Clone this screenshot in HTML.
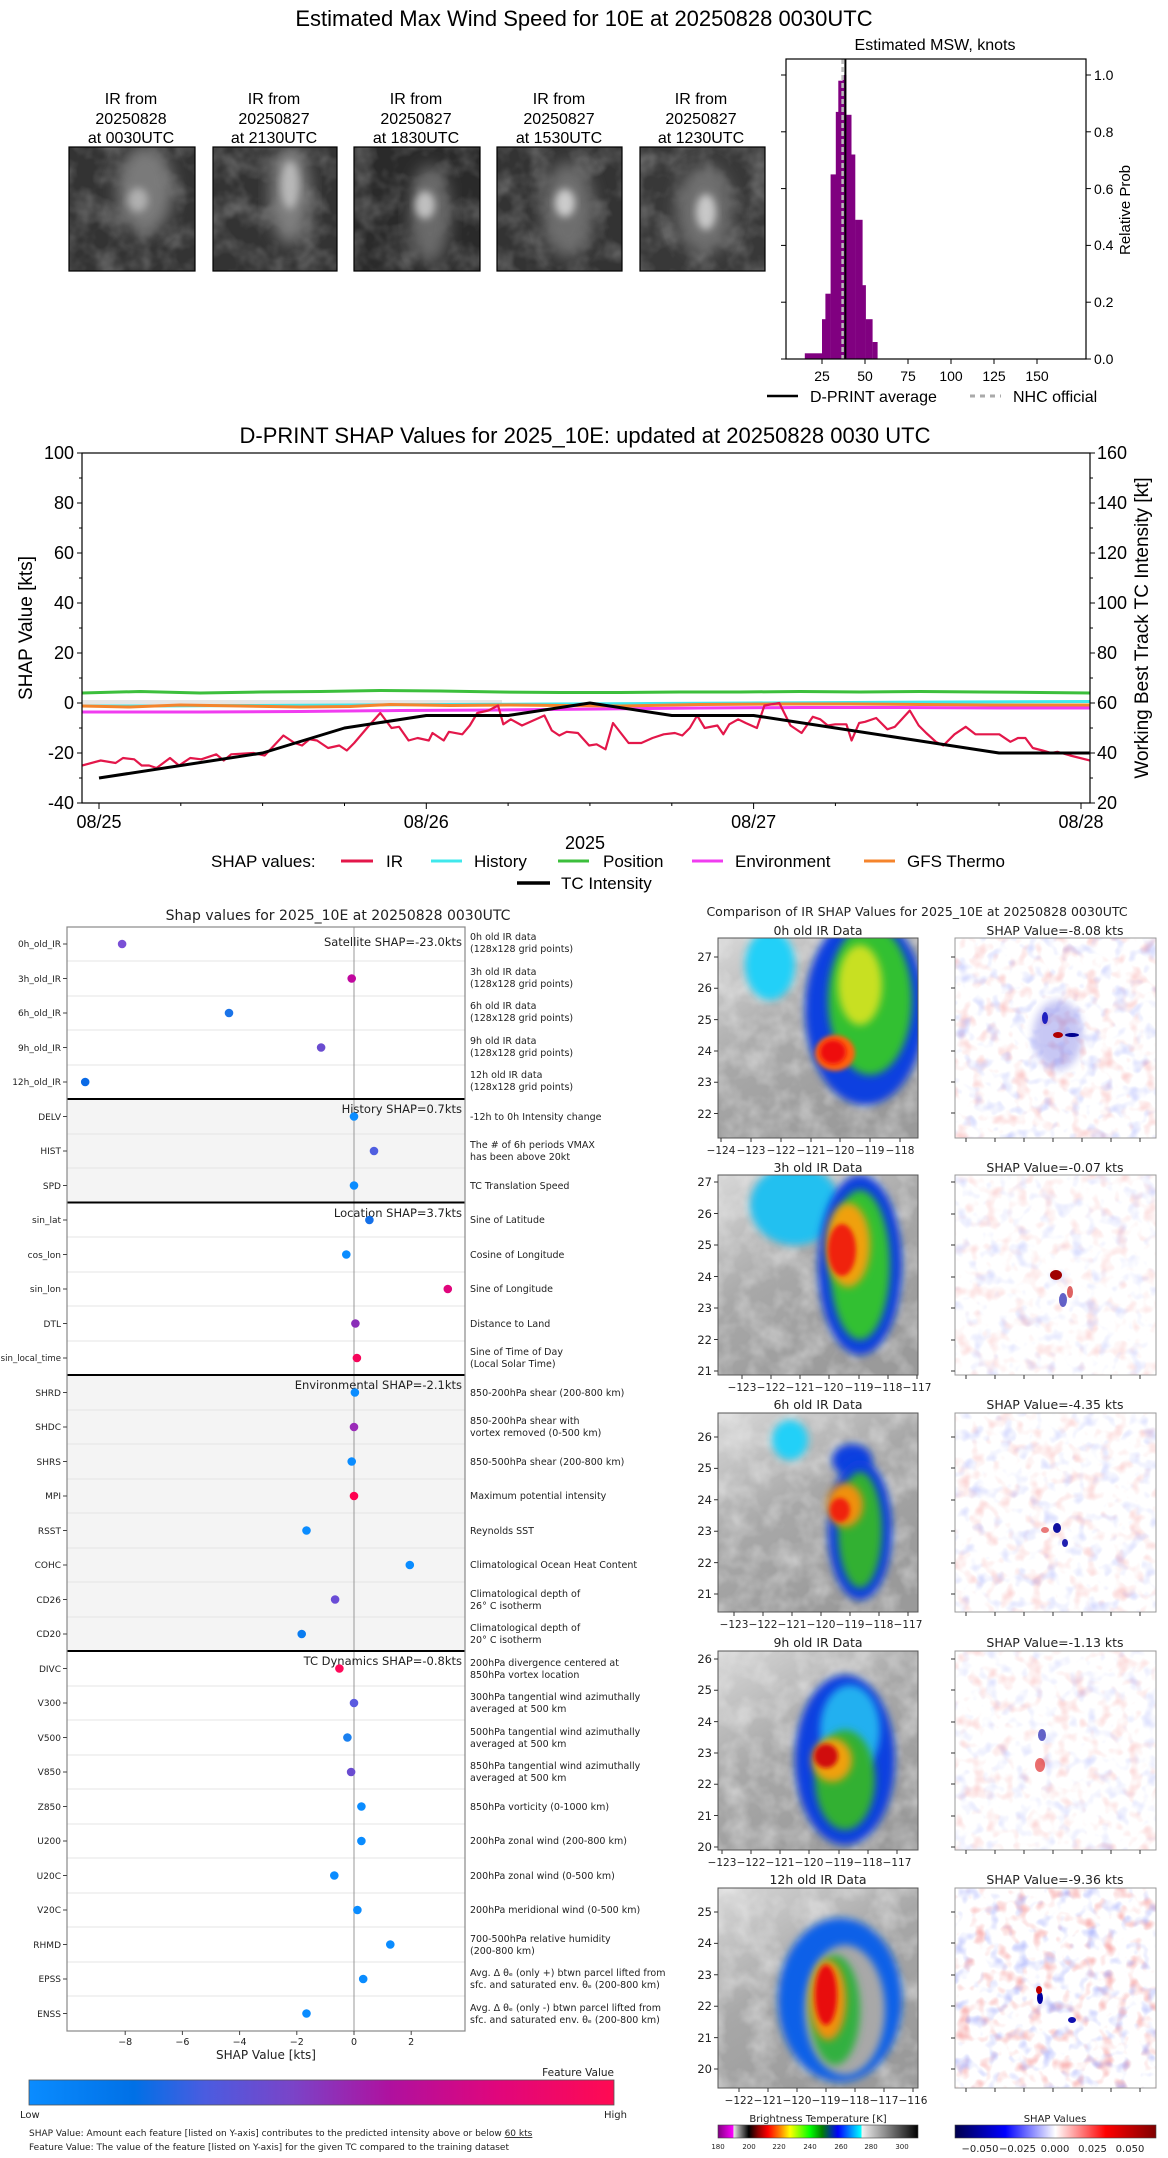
<!DOCTYPE html>
<html><head><meta charset="utf-8"><style>
html,body{margin:0;padding:0;background:#fff;}
svg{display:block;}
.t{font-family:"Liberation Sans",sans-serif;fill:#000;}
.d{font-family:"DejaVu Sans","Liberation Sans",sans-serif;fill:#222;}
</style></head><body>
<svg width="1168" height="2158" viewBox="0 0 1168 2158" xmlns="http://www.w3.org/2000/svg">
<defs>
 <filter id="bl4" x="-30%" y="-30%" width="160%" height="160%"><feGaussianBlur stdDeviation="4"/></filter>
 <filter id="bl2" x="-30%" y="-30%" width="160%" height="160%"><feGaussianBlur stdDeviation="2"/></filter>
 <filter id="bl8" x="-30%" y="-30%" width="160%" height="160%"><feGaussianBlur stdDeviation="8"/></filter>
 <filter id="nred" x="0" y="0" width="100%" height="100%"><feTurbulence type="fractalNoise" baseFrequency="0.07" numOctaves="2" seed="3"/><feColorMatrix values="0 0 0 0 0.9  0 0 0 0 0.2  0 0 0 0 0.2  3 0 0 0 -1.55"/></filter>
 <filter id="nblue" x="0" y="0" width="100%" height="100%"><feTurbulence type="fractalNoise" baseFrequency="0.07" numOctaves="2" seed="11"/><feColorMatrix values="0 0 0 0 0.2  0 0 0 0 0.25  0 0 0 0 0.95  0 3 0 0 -1.6"/></filter>
 <filter id="ngrey" x="0" y="0" width="100%" height="100%"><feTurbulence type="fractalNoise" baseFrequency="0.04" numOctaves="3" seed="5"/><feColorMatrix values="0 0 0 0 1  0 0 0 0 1  0 0 0 0 1  1.6 0 0 0 -0.6"/></filter>
 <linearGradient id="fv" x1="0" x2="1" y1="0" y2="0">
  <stop offset="0" stop-color="#0a8cff"/><stop offset="0.18" stop-color="#0070e6"/><stop offset="0.3" stop-color="#4a5ce0"/><stop offset="0.45" stop-color="#7a44c8"/><stop offset="0.62" stop-color="#b0109e"/><stop offset="0.8" stop-color="#e0067c"/><stop offset="1" stop-color="#ff0a52"/>
 </linearGradient>
 <linearGradient id="bt" x1="0" x2="1" y1="0" y2="0">
  <stop offset="0" stop-color="#800080"/><stop offset="0.076" stop-color="#ff00ff"/><stop offset="0.078" stop-color="#e8e8e8"/><stop offset="0.154" stop-color="#000"/><stop offset="0.2" stop-color="#8b0000"/><stop offset="0.25" stop-color="#ff0000"/><stop offset="0.31" stop-color="#ff8000"/><stop offset="0.36" stop-color="#ffff00"/><stop offset="0.46" stop-color="#00ff00"/><stop offset="0.52" stop-color="#008000"/><stop offset="0.6" stop-color="#0000ff"/><stop offset="0.715" stop-color="#00ffff"/><stop offset="0.72" stop-color="#f0f0f0"/><stop offset="1" stop-color="#000"/>
 </linearGradient>
 <linearGradient id="sw" x1="0" x2="1" y1="0" y2="0">
  <stop offset="0" stop-color="#00004c"/><stop offset="0.25" stop-color="#0000ff"/><stop offset="0.5" stop-color="#ffffff"/><stop offset="0.75" stop-color="#ff0000"/><stop offset="1" stop-color="#800000"/>
 </linearGradient>
 <linearGradient id="irbg" x1="0" y1="0" x2="0.6" y2="1">
  <stop offset="0" stop-color="#d8d8d8"/><stop offset="0.5" stop-color="#a8a8a8"/><stop offset="1" stop-color="#9a9a9a"/>
 </linearGradient>
 <clipPath id="c0"><rect x="718" y="938" width="200" height="200"/></clipPath>
 <clipPath id="c1"><rect x="718" y="1175" width="200" height="200"/></clipPath>
 <clipPath id="c2"><rect x="718" y="1413" width="200" height="199"/></clipPath>
 <clipPath id="c3"><rect x="718" y="1651" width="200" height="199"/></clipPath>
 <clipPath id="c4"><rect x="718" y="1888" width="200" height="200"/></clipPath>
 <clipPath id="tc"><rect x="69" y="147" width="696" height="124"/></clipPath>
 <clipPath id="hc"><rect x="82" y="453" width="1008" height="350"/></clipPath>
</defs>

<text class="t" x="584" y="26" font-size="22" text-anchor="middle">Estimated Max Wind Speed for 10E at 20250828 0030UTC</text>

<g class="t" font-size="16" text-anchor="middle">
 <text x="131" y="104">IR from</text><text x="131" y="124">20250828</text><text x="131" y="143">at 0030UTC</text>
 <text x="274" y="104">IR from</text><text x="274" y="124">20250827</text><text x="274" y="143">at 2130UTC</text>
 <text x="416" y="104">IR from</text><text x="416" y="124">20250827</text><text x="416" y="143">at 1830UTC</text>
 <text x="559" y="104">IR from</text><text x="559" y="124">20250827</text><text x="559" y="143">at 1530UTC</text>
 <text x="701" y="104">IR from</text><text x="701" y="124">20250827</text><text x="701" y="143">at 1230UTC</text>
</g>
<g clip-path="url(#tc)">
 <rect x="69" y="147" width="126" height="124" fill="#333"/>
 <rect x="69" y="147" width="126" height="124" filter="url(#ngrey)" opacity="0.3"/>
 <ellipse cx="145" cy="190" rx="28" ry="45" fill="#7a7a7a" filter="url(#bl8)"/>
 <ellipse cx="138" cy="200" rx="10" ry="12" fill="#b0b0b0" filter="url(#bl4)"/>
 <rect x="213" y="147" width="124" height="124" fill="#333"/>
 <rect x="213" y="147" width="124" height="124" filter="url(#ngrey)" opacity="0.3"/>
 <ellipse cx="290" cy="195" rx="20" ry="50" fill="#808080" filter="url(#bl8)"/>
 <ellipse cx="290" cy="185" rx="9" ry="24" fill="#b8b8b8" filter="url(#bl4)"/>
 <rect x="354" y="147" width="126" height="124" fill="#2a2a2a"/>
 <rect x="354" y="147" width="126" height="124" filter="url(#ngrey)" opacity="0.3"/>
 <ellipse cx="430" cy="215" rx="20" ry="50" fill="#6a6a6a" filter="url(#bl8)"/>
 <ellipse cx="425" cy="205" rx="10" ry="14" fill="#c0c0c0" filter="url(#bl4)"/>
 <rect x="497" y="147" width="125" height="124" fill="#333"/>
 <rect x="497" y="147" width="125" height="124" filter="url(#ngrey)" opacity="0.3"/>
 <ellipse cx="568" cy="210" rx="26" ry="48" fill="#6e6e6e" filter="url(#bl8)"/>
 <ellipse cx="565" cy="203" rx="10" ry="14" fill="#cccccc" filter="url(#bl4)"/>
 <rect x="640" y="147" width="125" height="124" fill="#383838"/>
 <rect x="640" y="147" width="125" height="124" filter="url(#ngrey)" opacity="0.3"/>
 <ellipse cx="704" cy="210" rx="28" ry="45" fill="#707070" filter="url(#bl8)"/>
 <ellipse cx="706" cy="212" rx="10" ry="18" fill="#c8c8c8" filter="url(#bl4)"/>
</g>
<g fill="none" stroke="#000" stroke-width="1.2">
 <rect x="69" y="147" width="126" height="124"/><rect x="213" y="147" width="124" height="124"/><rect x="354" y="147" width="126" height="124"/><rect x="497" y="147" width="125" height="124"/><rect x="640" y="147" width="125" height="124"/>
</g>

<text class="t" x="935" y="50" font-size="16" text-anchor="middle">Estimated MSW, knots</text>
<g fill="#800080">
 <rect x="804.8" y="353.3" width="17.2" height="5.7"/>
 <rect x="822" y="319.2" width="3.6" height="39.8"/>
 <rect x="825.4" y="293.7" width="5.4" height="65.3"/>
 <rect x="830.6" y="174.4" width="5.4" height="184.6"/>
 <rect x="835.8" y="111.9" width="2.7" height="247.1"/>
 <rect x="838.3" y="80.7" width="4.5" height="278.3"/>
 <rect x="842.6" y="75" width="3.7" height="284"/>
 <rect x="846.1" y="114.8" width="5.4" height="244.2"/>
 <rect x="851.3" y="154.5" width="4" height="204.5"/>
 <rect x="855.1" y="219.8" width="7.5" height="139.2"/>
 <rect x="862.3" y="285.2" width="3.6" height="73.8"/>
 <rect x="865.7" y="319.2" width="6.9" height="39.8"/>
 <rect x="872.6" y="342" width="5" height="17"/>
</g>
<line x1="842.6" y1="59" x2="842.6" y2="359" stroke="#bbb" stroke-width="2.5" stroke-dasharray="5,3"/>
<line x1="845.4" y1="59" x2="845.4" y2="359" stroke="#000" stroke-width="2"/>
<rect x="786" y="59" width="300" height="300" fill="none" stroke="#000" stroke-width="1.2"/>
<g stroke="#000" stroke-width="1">
 <line x1="822" y1="359" x2="822" y2="364"/><line x1="865" y1="359" x2="865" y2="364"/><line x1="908" y1="359" x2="908" y2="364"/><line x1="951" y1="359" x2="951" y2="364"/><line x1="994" y1="359" x2="994" y2="364"/><line x1="1037" y1="359" x2="1037" y2="364"/>
 <line x1="1086" y1="359" x2="1091" y2="359"/><line x1="1086" y1="302.2" x2="1091" y2="302.2"/><line x1="1086" y1="245.4" x2="1091" y2="245.4"/><line x1="1086" y1="188.6" x2="1091" y2="188.6"/><line x1="1086" y1="131.8" x2="1091" y2="131.8"/><line x1="1086" y1="75" x2="1091" y2="75"/>
 <line x1="781" y1="359" x2="786" y2="359"/><line x1="781" y1="302.2" x2="786" y2="302.2"/><line x1="781" y1="245.4" x2="786" y2="245.4"/><line x1="781" y1="188.6" x2="786" y2="188.6"/><line x1="781" y1="131.8" x2="786" y2="131.8"/><line x1="781" y1="75" x2="786" y2="75"/>
</g>
<g class="t" font-size="14" text-anchor="middle">
 <text x="822" y="381">25</text><text x="865" y="381">50</text><text x="908" y="381">75</text><text x="951" y="381">100</text><text x="994" y="381">125</text><text x="1037" y="381">150</text>
</g>
<g class="t" font-size="14">
 <text x="1094" y="364">0.0</text><text x="1094" y="307">0.2</text><text x="1094" y="250">0.4</text><text x="1094" y="194">0.6</text><text x="1094" y="137">0.8</text><text x="1094" y="80">1.0</text>
</g>
<text class="t" font-size="15" transform="translate(1130,210) rotate(-90)" text-anchor="middle">Relative Prob</text>
<line x1="767" y1="396" x2="798" y2="396" stroke="#000" stroke-width="2.5"/>
<text class="t" x="810" y="402" font-size="16">D-PRINT average</text>
<line x1="970" y1="396" x2="1001" y2="396" stroke="#aaa" stroke-width="3" stroke-dasharray="5,5"/>
<text class="t" x="1013" y="402" font-size="16">NHC official</text>

<text class="t" x="585" y="443" font-size="22" text-anchor="middle">D-PRINT SHAP Values for 2025_10E: updated at 20250828 0030 UTC</text>
<g clip-path="url(#hc)" fill="none" stroke-linejoin="round">
 <rect x="82" y="700" width="420" height="6" fill="#e6e6e6" stroke="none"/>
 <polyline stroke="#3cbf3c" stroke-width="3" points="82,693 140,691.5 200,693 260,692 320,691.5 380,690.5 440,691 500,692 560,692.5 620,692.5 680,692 740,692 800,691.5 860,692 920,691.5 980,692 1040,692.5 1090,693"/>
 <polyline stroke="#40e8ec" stroke-width="3" points="82,706 150,706 250,705.5 350,705 450,704.5 550,704 650,703.5 750,703 850,702.5 950,702 1090,701.5"/>
 <polyline stroke="#f03cf0" stroke-width="3" points="82,712 200,712 300,711.5 400,710.5 500,710 600,709 700,708 800,707.5 900,707.5 1000,708 1090,708"/>
 <polyline stroke="#f5842c" stroke-width="3" points="82,706 130,707 180,705 240,706 300,707 350,706.5 390,704.5 450,705.5 510,705 560,705.5 620,706 700,704.5 780,704 850,704 920,704.5 990,705 1090,705"/>
 <polyline stroke="#e3174a" stroke-width="2.2" points="82,765.5 100.7,760.5 115.6,763 123,758 134.2,759.3 141.7,765.5 149.1,765.5 156.6,768 170,758 179,765.5 190.2,758 201.3,759.3 216.3,754.3 223.7,760.5 231.2,754.3 253.5,753 264.7,755.5 283.4,735.5 294.6,743 302,745.5 309.5,739.3 317,740.5 328.1,748 339.3,745.5 346.8,750.5 354.2,743 369.1,725.5 380.3,713 391.5,728 399,726.8 408.6,740.5 417.6,738 428.8,740.5 432.5,733 443.7,740.5 448.9,731.8 462.3,734.3 469.8,725.5 477.3,713 488.4,710.5 498.1,705.5 503.3,724.3 510.8,719.3 522,725.5 533.2,720.5 544.4,715.5 551.8,730.5 559.3,735.5 566.7,731.8 577.9,733 589.1,745.5 596.6,744.3 605.5,749.3 613,723 628.6,743 641.3,743 652.5,738 663.7,734.3 674.9,733 682.3,735.5 689.8,728 697.2,715.5 704.7,728 717.4,725.5 723.3,734.3 729.3,724.3 738.2,719.3 745.7,723 756.9,728 764.4,705.5 779.3,703 790.5,725.5 801.6,733 812.8,716.8 820.3,719.3 827.7,725.5 835.2,724.3 846.4,724.3 851.6,740.5 859.1,723 865.1,721.8 876.2,718 887.4,729.3 894.9,726.8 909.8,710.5 918.7,725.5 926.2,733 935.9,741.8 943.3,745.5 954.5,734.3 965.7,726.8 975.4,734.3 999.3,734.3 1010.4,741.8 1017.9,738 1025.4,738 1032.8,748 1042.5,750.5 1051.4,753 1057.4,751.8 1070.1,755.5 1090.2,760.5"/>
 <polyline stroke="#000" stroke-width="3" points="99,778 262.6,753 344.5,728 426.3,715.5 508.1,715.5 589.9,703 671.8,715.5 753.6,715.5 835.4,728 917.2,740.5 999,753 1090,753"/>
</g>
<rect x="82" y="453" width="1008" height="350" fill="none" stroke="#000" stroke-width="1.2"/>
<g stroke="#000" stroke-width="1">
 <line x1="77" y1="453" x2="82" y2="453"/><line x1="77" y1="503" x2="82" y2="503"/><line x1="77" y1="553" x2="82" y2="553"/><line x1="77" y1="603" x2="82" y2="603"/><line x1="77" y1="653" x2="82" y2="653"/><line x1="77" y1="703" x2="82" y2="703"/><line x1="77" y1="753" x2="82" y2="753"/><line x1="77" y1="803" x2="82" y2="803"/>
 <line x1="79" y1="478" x2="82" y2="478"/><line x1="79" y1="528" x2="82" y2="528"/><line x1="79" y1="578" x2="82" y2="578"/><line x1="79" y1="628" x2="82" y2="628"/><line x1="79" y1="678" x2="82" y2="678"/><line x1="79" y1="728" x2="82" y2="728"/><line x1="79" y1="778" x2="82" y2="778"/>
 <line x1="1090" y1="453" x2="1095" y2="453"/><line x1="1090" y1="503" x2="1095" y2="503"/><line x1="1090" y1="553" x2="1095" y2="553"/><line x1="1090" y1="603" x2="1095" y2="603"/><line x1="1090" y1="653" x2="1095" y2="653"/><line x1="1090" y1="703" x2="1095" y2="703"/><line x1="1090" y1="753" x2="1095" y2="753"/><line x1="1090" y1="803" x2="1095" y2="803"/>
 <line x1="1090" y1="478" x2="1093" y2="478"/><line x1="1090" y1="528" x2="1093" y2="528"/><line x1="1090" y1="578" x2="1093" y2="578"/><line x1="1090" y1="628" x2="1093" y2="628"/><line x1="1090" y1="678" x2="1093" y2="678"/><line x1="1090" y1="728" x2="1093" y2="728"/><line x1="1090" y1="778" x2="1093" y2="778"/>
 <line x1="99" y1="803" x2="99" y2="809"/><line x1="426.3" y1="803" x2="426.3" y2="809"/><line x1="753.6" y1="803" x2="753.6" y2="809"/><line x1="1081" y1="803" x2="1081" y2="809"/>
 <line x1="180.8" y1="803" x2="180.8" y2="806"/><line x1="262.6" y1="803" x2="262.6" y2="806"/><line x1="344.5" y1="803" x2="344.5" y2="806"/><line x1="508.1" y1="803" x2="508.1" y2="806"/><line x1="589.9" y1="803" x2="589.9" y2="806"/><line x1="671.8" y1="803" x2="671.8" y2="806"/><line x1="835.4" y1="803" x2="835.4" y2="806"/><line x1="917.2" y1="803" x2="917.2" y2="806"/><line x1="999" y1="803" x2="999" y2="806"/>
</g>
<g class="t" font-size="18" text-anchor="end">
 <text x="74" y="459">100</text><text x="74" y="509">80</text><text x="74" y="559">60</text><text x="74" y="609">40</text><text x="74" y="659">20</text><text x="74" y="709">0</text><text x="74" y="759">-20</text><text x="74" y="809">-40</text>
</g>
<g class="t" font-size="18">
 <text x="1097" y="459">160</text><text x="1097" y="509">140</text><text x="1097" y="559">120</text><text x="1097" y="609">100</text><text x="1097" y="659">80</text><text x="1097" y="709">60</text><text x="1097" y="759">40</text><text x="1097" y="809">20</text>
</g>
<g class="t" font-size="18" text-anchor="middle">
 <text x="99" y="828">08/25</text><text x="426.3" y="828">08/26</text><text x="753.6" y="828">08/27</text><text x="1081" y="828">08/28</text>
 <text x="585" y="849">2025</text>
</g>
<text class="t" font-size="19" transform="translate(32,628) rotate(-90)" text-anchor="middle">SHAP Value [kts]</text>
<text class="t" font-size="19" transform="translate(1148,628) rotate(-90)" text-anchor="middle">Working Best Track TC Intensity [kt]</text>
<g class="t" font-size="17">
 <text x="211" y="867">SHAP values:</text>
 <line x1="341" y1="861" x2="373" y2="861" stroke="#e3174a" stroke-width="3"/><text x="386" y="867">IR</text>
 <line x1="431" y1="861" x2="462" y2="861" stroke="#40e8ec" stroke-width="3"/><text x="474" y="867">History</text>
 <line x1="558" y1="861" x2="589" y2="861" stroke="#3cbf3c" stroke-width="3"/><text x="603" y="867">Position</text>
 <line x1="692" y1="861" x2="723" y2="861" stroke="#f03cf0" stroke-width="3"/><text x="735" y="867">Environment</text>
 <line x1="864" y1="861" x2="895" y2="861" stroke="#f5842c" stroke-width="3"/><text x="907" y="867">GFS Thermo</text>
 <line x1="517" y1="883" x2="550" y2="883" stroke="#000" stroke-width="3.5"/><text x="561" y="889">TC Intensity</text>
</g>

<text class="d" x="338" y="920" font-size="14" text-anchor="middle" fill="#111">Shap values for 2025_10E at 20250828 0030UTC</text>
<rect x="67" y="1099" width="398" height="103.5" fill="#f4f4f4"/>
<rect x="67" y="1375" width="398" height="276" fill="#f4f4f4"/>
<g stroke="#e4e4e4" stroke-width="1">
 <line x1="67" y1="961" x2="465" y2="961"/><line x1="67" y1="996" x2="465" y2="996"/><line x1="67" y1="1030" x2="465" y2="1030"/><line x1="67" y1="1065" x2="465" y2="1065"/>
 <line x1="67" y1="1134" x2="465" y2="1134"/><line x1="67" y1="1168" x2="465" y2="1168"/>
 <line x1="67" y1="1237" x2="465" y2="1237"/><line x1="67" y1="1272" x2="465" y2="1272"/><line x1="67" y1="1306" x2="465" y2="1306"/><line x1="67" y1="1341" x2="465" y2="1341"/>
 <line x1="67" y1="1410" x2="465" y2="1410"/><line x1="67" y1="1444" x2="465" y2="1444"/><line x1="67" y1="1479" x2="465" y2="1479"/><line x1="67" y1="1513" x2="465" y2="1513"/><line x1="67" y1="1548" x2="465" y2="1548"/><line x1="67" y1="1582" x2="465" y2="1582"/><line x1="67" y1="1617" x2="465" y2="1617"/>
 <line x1="67" y1="1686" x2="465" y2="1686"/><line x1="67" y1="1720" x2="465" y2="1720"/><line x1="67" y1="1755" x2="465" y2="1755"/><line x1="67" y1="1789" x2="465" y2="1789"/><line x1="67" y1="1824" x2="465" y2="1824"/><line x1="67" y1="1858" x2="465" y2="1858"/><line x1="67" y1="1893" x2="465" y2="1893"/><line x1="67" y1="1927" x2="465" y2="1927"/><line x1="67" y1="1962" x2="465" y2="1962"/><line x1="67" y1="1996" x2="465" y2="1996"/>
</g>
<line x1="354" y1="927" x2="354" y2="2031" stroke="#999" stroke-width="1"/>
<g stroke="#000" stroke-width="2">
 <line x1="67" y1="1099" x2="465" y2="1099"/><line x1="67" y1="1202.5" x2="465" y2="1202.5"/><line x1="67" y1="1375" x2="465" y2="1375"/><line x1="67" y1="1651" x2="465" y2="1651"/>
</g>
<rect x="67" y="927" width="398" height="1104" fill="none" stroke="#888" stroke-width="1.2"/>
<g class="d" font-size="11.5" text-anchor="end" fill="#222">
 <text x="462" y="946">Satellite SHAP=-23.0kts</text>
 <text x="462" y="1113">History SHAP=0.7kts</text>
 <text x="462" y="1217">Location SHAP=3.7kts</text>
 <text x="462" y="1389">Environmental SHAP=-2.1kts</text>
 <text x="462" y="1665">TC Dynamics SHAP=-0.8kts</text>
</g>
<g class="d" font-size="9" text-anchor="end" fill="#222">
 <text x="61" y="947">0h_old_IR</text><text x="61" y="982">3h_old_IR</text><text x="61" y="1016">6h_old_IR</text><text x="61" y="1051">9h_old_IR</text><text x="61" y="1085">12h_old_IR</text>
 <text x="61" y="1120">DELV</text><text x="61" y="1154">HIST</text><text x="61" y="1189">SPD</text>
 <text x="61" y="1223">sin_lat</text><text x="61" y="1258">cos_lon</text><text x="61" y="1292">sin_lon</text><text x="61" y="1327">DTL</text><text x="61" y="1361" font-size="8.6">sin_local_time</text>
 <text x="61" y="1396">SHRD</text><text x="61" y="1430">SHDC</text><text x="61" y="1465">SHRS</text><text x="61" y="1499">MPI</text><text x="61" y="1534">RSST</text><text x="61" y="1568">COHC</text><text x="61" y="1603">CD26</text><text x="61" y="1637">CD20</text>
 <text x="61" y="1672">DIVC</text><text x="61" y="1706">V300</text><text x="61" y="1741">V500</text><text x="61" y="1775">V850</text><text x="61" y="1810">Z850</text><text x="61" y="1844">U200</text><text x="61" y="1879">U20C</text><text x="61" y="1913">V20C</text><text x="61" y="1948">RHMD</text><text x="61" y="1982">EPSS</text><text x="61" y="2017">ENSS</text>
</g>
<g stroke="#444" stroke-width="1">
 <path d="M63 944h4M63 978.5h4M63 1013h4M63 1047.5h4M63 1082h4M63 1116.5h4M63 1151h4M63 1185.5h4M63 1220h4M63 1254.5h4M63 1289h4M63 1323.5h4M63 1358h4M63 1392.5h4M63 1427h4M63 1461.5h4M63 1496h4M63 1530.5h4M63 1565h4M63 1599.5h4M63 1634h4M63 1668.5h4M63 1703h4M63 1737.5h4M63 1772h4M63 1806.5h4M63 1841h4M63 1875.5h4M63 1910h4M63 1944.5h4M63 1979h4M63 2013.5h4"/>
</g>
<g class="d" font-size="9.5" fill="#222">
 <text x="470" y="940">0h old IR data</text><text x="470" y="952">(128x128 grid points)</text>
 <text x="470" y="975">3h old IR data</text><text x="470" y="987">(128x128 grid points)</text>
 <text x="470" y="1009">6h old IR data</text><text x="470" y="1021">(128x128 grid points)</text>
 <text x="470" y="1044">9h old IR data</text><text x="470" y="1056">(128x128 grid points)</text>
 <text x="470" y="1078">12h old IR data</text><text x="470" y="1090">(128x128 grid points)</text>
 <text x="470" y="1120">-12h to 0h Intensity change</text>
 <text x="470" y="1148">The # of 6h periods VMAX</text><text x="470" y="1160">has been above 20kt</text>
 <text x="470" y="1189">TC Translation Speed</text>
 <text x="470" y="1223">Sine of Latitude</text>
 <text x="470" y="1258">Cosine of Longitude</text>
 <text x="470" y="1292">Sine of Longitude</text>
 <text x="470" y="1327">Distance to Land</text>
 <text x="470" y="1355">Sine of Time of Day</text><text x="470" y="1367">(Local Solar Time)</text>
 <text x="470" y="1396">850-200hPa shear (200-800 km)</text>
 <text x="470" y="1424">850-200hPa shear with</text><text x="470" y="1436">vortex removed (0-500 km)</text>
 <text x="470" y="1465">850-500hPa shear (200-800 km)</text>
 <text x="470" y="1499">Maximum potential intensity</text>
 <text x="470" y="1534">Reynolds SST</text>
 <text x="470" y="1568">Climatological Ocean Heat Content</text>
 <text x="470" y="1597">Climatological depth of</text><text x="470" y="1609">26° C isotherm</text>
 <text x="470" y="1631">Climatological depth of</text><text x="470" y="1643">20° C isotherm</text>
 <text x="470" y="1666">200hPa divergence centered at</text><text x="470" y="1678">850hPa vortex location</text>
 <text x="470" y="1700">300hPa tangential wind azimuthally</text><text x="470" y="1712">averaged at 500 km</text>
 <text x="470" y="1735">500hPa tangential wind azimuthally</text><text x="470" y="1747">averaged at 500 km</text>
 <text x="470" y="1769">850hPa tangential wind azimuthally</text><text x="470" y="1781">averaged at 500 km</text>
 <text x="470" y="1810">850hPa vorticity (0-1000 km)</text>
 <text x="470" y="1844">200hPa zonal wind (200-800 km)</text>
 <text x="470" y="1879">200hPa zonal wind (0-500 km)</text>
 <text x="470" y="1913">200hPa meridional wind (0-500 km)</text>
 <text x="470" y="1942">700-500hPa relative humidity</text><text x="470" y="1954">(200-800 km)</text>
 <text x="470" y="1976">Avg. Δ θₑ (only +) btwn parcel lifted from</text><text x="470" y="1988">sfc. and saturated env. θₑ (200-800 km)</text>
 <text x="470" y="2011">Avg. Δ θₑ (only -) btwn parcel lifted from</text><text x="470" y="2023">sfc. and saturated env. θₑ (200-800 km)</text>
</g>
<g>
 <circle cx="122.1" cy="944" r="4.3" fill="#7a4fd6"/><circle cx="351.7" cy="978.5" r="4.3" fill="#c0079e"/><circle cx="229" cy="1013" r="4.3" fill="#1a73e8"/><circle cx="321.1" cy="1047.5" r="4.3" fill="#6a4cd0"/><circle cx="85.2" cy="1082" r="4.3" fill="#0a6ae6"/>
 <circle cx="354" cy="1116.5" r="4.3" fill="#0a8cff"/><circle cx="374" cy="1151" r="4.3" fill="#4f5ee0"/><circle cx="354" cy="1185.5" r="4.3" fill="#0a8cff"/>
 <circle cx="369.4" cy="1220" r="4.3" fill="#1570e8"/><circle cx="346.3" cy="1254.5" r="4.3" fill="#0a8cff"/><circle cx="447.8" cy="1289" r="4.3" fill="#e0057c"/><circle cx="355.4" cy="1323.5" r="4.3" fill="#8a2db8"/><circle cx="356.9" cy="1358" r="4.3" fill="#f5055a"/>
 <circle cx="354.9" cy="1392.5" r="4.3" fill="#0a8cff"/><circle cx="354" cy="1427" r="4.3" fill="#9a2ab8"/><circle cx="351.7" cy="1461.5" r="4.3" fill="#0a8cff"/><circle cx="354" cy="1496" r="4.3" fill="#ff0050"/><circle cx="306.5" cy="1530.5" r="4.3" fill="#0a8cff"/><circle cx="409.8" cy="1565" r="4.3" fill="#0a8cff"/><circle cx="335.1" cy="1599.5" r="4.3" fill="#6a4cd6"/><circle cx="301.7" cy="1634" r="4.3" fill="#0a7cf0"/>
 <circle cx="339.4" cy="1668.5" r="4.3" fill="#ff0a5a"/><circle cx="354" cy="1703" r="4.3" fill="#5a5ae0"/><circle cx="347.4" cy="1737.5" r="4.3" fill="#1a80f0"/><circle cx="351.1" cy="1772" r="4.3" fill="#6a4cd0"/><circle cx="361.4" cy="1806.5" r="4.3" fill="#0a8cff"/><circle cx="361.4" cy="1841" r="4.3" fill="#0a8cff"/><circle cx="334.3" cy="1875.5" r="4.3" fill="#0a8cff"/><circle cx="357.4" cy="1910" r="4.3" fill="#0a8cff"/><circle cx="390.3" cy="1944.5" r="4.3" fill="#0a8cff"/><circle cx="363.2" cy="1979" r="4.3" fill="#0a8cff"/><circle cx="306.5" cy="2013.5" r="4.3" fill="#0a8cff"/>
</g>
<g stroke="#444" stroke-width="1">
 <line x1="125.2" y1="2031" x2="125.2" y2="2035"/><line x1="182.4" y1="2031" x2="182.4" y2="2035"/><line x1="239.6" y1="2031" x2="239.6" y2="2035"/><line x1="296.8" y1="2031" x2="296.8" y2="2035"/><line x1="354" y1="2031" x2="354" y2="2035"/><line x1="411.2" y1="2031" x2="411.2" y2="2035"/>
</g>
<g class="d" font-size="9.5" text-anchor="middle" fill="#222">
 <text x="125.2" y="2045">−8</text><text x="182.4" y="2045">−6</text><text x="239.6" y="2045">−4</text><text x="296.8" y="2045">−2</text><text x="354" y="2045">0</text><text x="411.2" y="2045">2</text>
</g>
<text class="d" x="266" y="2059" font-size="12" text-anchor="middle" fill="#111">SHAP Value [kts]</text>
<text class="d" x="614" y="2076" font-size="10.5" text-anchor="end" fill="#111">Feature Value</text>
<rect x="29" y="2080" width="585" height="25" fill="url(#fv)" stroke="#555" stroke-width="0.8"/>
<text class="d" x="20" y="2118" font-size="10" fill="#111">Low</text>
<text class="d" x="604" y="2118" font-size="10" fill="#111">High</text>
<text class="d" x="29" y="2136" font-size="9" fill="#222">SHAP Value: Amount each feature [listed on Y-axis] contributes to the predicted intensity above or below <tspan text-decoration="underline">60 kts</tspan></text>
<text class="d" x="29" y="2150" font-size="9" fill="#222">Feature Value: The value of the feature [listed on Y-axis] for the given TC compared to the training dataset</text>

<text class="d" x="917" y="916" font-size="12.5" text-anchor="middle" fill="#111">Comparison of IR SHAP Values for 2025_10E at 20250828 0030UTC</text>

<text class="d" x="818" y="935" font-size="12.5" text-anchor="middle" fill="#111">0h old IR Data</text>
<text class="d" x="1055" y="935" font-size="12.5" text-anchor="middle" fill="#111">SHAP Value=-8.08 kts</text>
<g clip-path="url(#c0)">
 <rect x="718" y="938" width="200" height="200" fill="url(#irbg)"/>
 <rect x="718" y="938" width="200" height="200" filter="url(#ngrey)" opacity="0.5"/>
 <ellipse cx="770" cy="965" rx="25" ry="35" fill="#20d0f8" filter="url(#bl4)"/>
 <ellipse cx="865" cy="1010" rx="60" ry="95" fill="#0a40e0" filter="url(#bl4)"/>
 <ellipse cx="870" cy="1000" rx="42" ry="75" fill="#30c030" filter="url(#bl4)"/>
 <ellipse cx="860" cy="985" rx="22" ry="40" fill="#c8e020" filter="url(#bl4)"/>
 <ellipse cx="835" cy="1053" rx="20" ry="18" fill="#ff6010" filter="url(#bl2)"/>
 <ellipse cx="833" cy="1052" rx="13" ry="12" fill="#ee1010" filter="url(#bl2)"/>
</g>
<rect x="718" y="938" width="200" height="200" fill="none" stroke="#555"/>
<text class="d" x="818" y="1172" font-size="12.5" text-anchor="middle" fill="#111">3h old IR Data</text>
<text class="d" x="1055" y="1172" font-size="12.5" text-anchor="middle" fill="#111">SHAP Value=-0.07 kts</text>
<g clip-path="url(#c1)">
 <rect x="718" y="1175" width="200" height="200" fill="url(#irbg)"/>
 <rect x="718" y="1175" width="200" height="200" filter="url(#ngrey)" opacity="0.5"/>
 <ellipse cx="795" cy="1205" rx="45" ry="40" fill="#20c0f0" filter="url(#bl4)"/>
 <ellipse cx="860" cy="1265" rx="42" ry="90" fill="#0a40e0" filter="url(#bl4)"/>
 <ellipse cx="860" cy="1265" rx="30" ry="75" fill="#30c030" filter="url(#bl4)"/>
 <ellipse cx="848" cy="1245" rx="22" ry="42" fill="#f0a010" filter="url(#bl4)"/>
 <ellipse cx="842" cy="1250" rx="14" ry="26" fill="#f02010" filter="url(#bl2)"/>
</g>
<rect x="718" y="1175" width="200" height="200" fill="none" stroke="#555"/>
<text class="d" x="818" y="1409" font-size="12.5" text-anchor="middle" fill="#111">6h old IR Data</text>
<text class="d" x="1055" y="1409" font-size="12.5" text-anchor="middle" fill="#111">SHAP Value=-4.35 kts</text>
<g clip-path="url(#c2)">
 <rect x="718" y="1413" width="200" height="199" fill="url(#irbg)"/>
 <rect x="718" y="1413" width="200" height="199" filter="url(#ngrey)" opacity="0.5"/>
 <ellipse cx="790" cy="1440" rx="18" ry="20" fill="#20d0f8" filter="url(#bl4)"/>
 <ellipse cx="852" cy="1460" rx="20" ry="16" fill="#0a40e0" filter="url(#bl4)"/>
 <ellipse cx="860" cy="1530" rx="32" ry="70" fill="#0a40e0" filter="url(#bl4)"/>
 <ellipse cx="860" cy="1530" rx="22" ry="58" fill="#30b030" filter="url(#bl4)"/>
 <ellipse cx="845" cy="1505" rx="18" ry="22" fill="#f09010" filter="url(#bl4)"/>
 <ellipse cx="840" cy="1510" rx="10" ry="12" fill="#f02010" filter="url(#bl2)"/>
</g>
<rect x="718" y="1413" width="200" height="199" fill="none" stroke="#555"/>
<text class="d" x="818" y="1647" font-size="12.5" text-anchor="middle" fill="#111">9h old IR Data</text>
<text class="d" x="1055" y="1647" font-size="12.5" text-anchor="middle" fill="#111">SHAP Value=-1.13 kts</text>
<g clip-path="url(#c3)">
 <rect x="718" y="1651" width="200" height="199" fill="url(#irbg)"/>
 <rect x="718" y="1651" width="200" height="199" filter="url(#ngrey)" opacity="0.5"/>
 <ellipse cx="845" cy="1760" rx="50" ry="85" fill="#0a40e0" filter="url(#bl4)"/>
 <ellipse cx="850" cy="1730" rx="30" ry="45" fill="#20b0f0" filter="url(#bl4)"/>
 <ellipse cx="845" cy="1780" rx="30" ry="50" fill="#30b030" filter="url(#bl4)"/>
 <ellipse cx="832" cy="1760" rx="20" ry="22" fill="#f0a010" filter="url(#bl4)"/>
 <ellipse cx="826" cy="1756" rx="12" ry="12" fill="#d01010" filter="url(#bl2)"/>
</g>
<rect x="718" y="1651" width="200" height="199" fill="none" stroke="#555"/>
<text class="d" x="818" y="1884" font-size="12.5" text-anchor="middle" fill="#111">12h old IR Data</text>
<text class="d" x="1055" y="1884" font-size="12.5" text-anchor="middle" fill="#111">SHAP Value=-9.36 kts</text>
<g clip-path="url(#c4)">
 <rect x="718" y="1888" width="200" height="200" fill="url(#irbg)"/>
 <rect x="718" y="1888" width="200" height="200" filter="url(#ngrey)" opacity="0.5"/>
 <ellipse cx="840" cy="2000" rx="62" ry="82" fill="#1060e8" filter="url(#bl4)"/>
 <ellipse cx="845" cy="2010" rx="40" ry="65" fill="#a8a8a8" filter="url(#bl4)"/>
 <ellipse cx="835" cy="2010" rx="25" ry="55" fill="#30b040" filter="url(#bl4)"/>
 <ellipse cx="828" cy="2000" rx="18" ry="40" fill="#f09010" filter="url(#bl4)"/>
 <ellipse cx="826" cy="1995" rx="11" ry="30" fill="#e81010" filter="url(#bl2)"/>
</g>
<rect x="718" y="1888" width="200" height="200" fill="none" stroke="#555"/>

<g>
 <rect x="955" y="938" width="201" height="200" fill="#fff"/>
 <rect x="955" y="938" width="201" height="200" filter="url(#nred)" opacity="0.35"/>
 <rect x="955" y="938" width="201" height="200" filter="url(#nblue)" opacity="0.35"/>
 <ellipse cx="1058" cy="1035" rx="25" ry="35" fill="#6060e0" opacity="0.35" filter="url(#bl4)"/>
 <ellipse cx="1058" cy="1035" rx="5" ry="3" fill="#b00000"/><ellipse cx="1072" cy="1035" rx="7" ry="2" fill="#000090"/><ellipse cx="1045" cy="1018" rx="3" ry="6" fill="#2020c0"/>
 <rect x="955" y="938" width="201" height="200" fill="none" stroke="#999"/>
 <rect x="955" y="1175" width="201" height="200" fill="#fff"/>
 <rect x="955" y="1175" width="201" height="200" filter="url(#nred)" opacity="0.25"/>
 <rect x="955" y="1175" width="201" height="200" filter="url(#nblue)" opacity="0.25"/>
 <ellipse cx="1056" cy="1275" rx="6" ry="5" fill="#a00000"/><ellipse cx="1063" cy="1300" rx="4" ry="7" fill="#2020b0" opacity="0.7"/><ellipse cx="1070" cy="1292" rx="3" ry="6" fill="#d02020" opacity="0.7"/>
 <rect x="955" y="1175" width="201" height="200" fill="none" stroke="#999"/>
 <rect x="955" y="1413" width="201" height="199" fill="#fff"/>
 <rect x="955" y="1413" width="201" height="199" filter="url(#nred)" opacity="0.3"/>
 <rect x="955" y="1413" width="201" height="199" filter="url(#nblue)" opacity="0.3"/>
 <ellipse cx="1057" cy="1528" rx="4" ry="5" fill="#1010a0"/><ellipse cx="1065" cy="1543" rx="3" ry="4" fill="#2020b0"/><ellipse cx="1045" cy="1530" rx="4" ry="3" fill="#e04040" opacity="0.7"/>
 <rect x="955" y="1413" width="201" height="199" fill="none" stroke="#999"/>
 <rect x="955" y="1651" width="201" height="199" fill="#fff"/>
 <rect x="955" y="1651" width="201" height="199" filter="url(#nred)" opacity="0.3"/>
 <rect x="955" y="1651" width="201" height="199" filter="url(#nblue)" opacity="0.25"/>
 <ellipse cx="1040" cy="1765" rx="5" ry="7" fill="#e03030" opacity="0.7"/><ellipse cx="1042" cy="1735" rx="4" ry="6" fill="#2020b0" opacity="0.7"/>
 <rect x="955" y="1651" width="201" height="199" fill="none" stroke="#999"/>
 <rect x="955" y="1888" width="201" height="200" fill="#fff"/>
 <rect x="955" y="1888" width="201" height="200" filter="url(#nred)" opacity="0.55"/>
 <rect x="955" y="1888" width="201" height="200" filter="url(#nblue)" opacity="0.5"/>
 <ellipse cx="1040" cy="1998" rx="3" ry="6" fill="#0000a0"/><ellipse cx="1039" cy="1990" rx="3" ry="4" fill="#c00000"/><ellipse cx="1072" cy="2020" rx="4" ry="3" fill="#1010b0"/>
 <rect x="955" y="1888" width="201" height="200" fill="none" stroke="#999"/>
</g>

<g stroke="#333" stroke-width="1">
 <path d="M714 957h4M714 988.3h4M714 1019.6h4M714 1051h4M714 1082.2h4M714 1113.5h4M721 1138v4M751 1138v4M781 1138v4M811 1138v4M840 1138v4M870 1138v4M900 1138v4"/>
 <path d="M714 1182h4M714 1213.5h4M714 1245h4M714 1276.5h4M714 1308h4M714 1339.5h4M714 1371h4M742 1375v4M771 1375v4M800 1375v4M829 1375v4M859 1375v4M888 1375v4M917 1375v4"/>
 <path d="M714 1437h4M714 1468.4h4M714 1499.8h4M714 1531.2h4M714 1562.6h4M714 1594h4M734 1612v4M763 1612v4M792 1612v4M821 1612v4M850 1612v4M879 1612v4M908 1612v4"/>
 <path d="M714 1659h4M714 1690.3h4M714 1721.6h4M714 1753h4M714 1784.2h4M714 1815.5h4M714 1847h4M722 1850v4M751 1850v4M780 1850v4M809 1850v4M839 1850v4M868 1850v4M897 1850v4"/>
 <path d="M714 1912h4M714 1943.4h4M714 1974.8h4M714 2006.2h4M714 2037.6h4M714 2069h4M739 2088v4M768 2088v4M797 2088v4M826 2088v4M855 2088v4M884 2088v4M913 2088v4"/>
 <path d="M951 957h4M951 988h4M951 1020h4M951 1051h4M951 1082h4M951 1113h4M966 1138v4M995 1138v4M1024 1138v4M1053 1138v4M1082 1138v4M1111 1138v4M1140 1138v4"/>
 <path d="M951 1182h4M951 1214h4M951 1245h4M951 1277h4M951 1308h4M951 1340h4M951 1371h4M966 1375v4M995 1375v4M1024 1375v4M1053 1375v4M1082 1375v4M1111 1375v4M1140 1375v4"/>
 <path d="M951 1437h4M951 1468h4M951 1500h4M951 1531h4M951 1563h4M951 1594h4M966 1612v4M995 1612v4M1024 1612v4M1053 1612v4M1082 1612v4M1111 1612v4M1140 1612v4"/>
 <path d="M951 1659h4M951 1690h4M951 1722h4M951 1753h4M951 1784h4M951 1816h4M951 1847h4M966 1850v4M995 1850v4M1024 1850v4M1053 1850v4M1082 1850v4M1111 1850v4M1140 1850v4"/>
 <path d="M951 1912h4M951 1943h4M951 1975h4M951 2006h4M951 2038h4M951 2069h4M966 2088v4M995 2088v4M1024 2088v4M1053 2088v4M1082 2088v4M1111 2088v4M1140 2088v4"/>
</g>
<g class="d" font-size="11.5" fill="#222" text-anchor="end">
 <text x="712" y="961">27</text><text x="712" y="992">26</text><text x="712" y="1024">25</text><text x="712" y="1055">24</text><text x="712" y="1086">23</text><text x="712" y="1118">22</text>
 <text x="712" y="1186">27</text><text x="712" y="1218">26</text><text x="712" y="1249">25</text><text x="712" y="1281">24</text><text x="712" y="1312">23</text><text x="712" y="1344">22</text><text x="712" y="1375">21</text>
 <text x="712" y="1441">26</text><text x="712" y="1472">25</text><text x="712" y="1504">24</text><text x="712" y="1535">23</text><text x="712" y="1567">22</text><text x="712" y="1598">21</text>
 <text x="712" y="1663">26</text><text x="712" y="1694">25</text><text x="712" y="1726">24</text><text x="712" y="1757">23</text><text x="712" y="1788">22</text><text x="712" y="1820">21</text><text x="712" y="1851">20</text>
 <text x="712" y="1916">25</text><text x="712" y="1947">24</text><text x="712" y="1979">23</text><text x="712" y="2010">22</text><text x="712" y="2042">21</text><text x="712" y="2073">20</text>
</g>
<g class="d" font-size="10.5" fill="#222" text-anchor="middle">
 <text x="721" y="1154">−124</text><text x="751" y="1154">−123</text><text x="781" y="1154">−122</text><text x="811" y="1154">−121</text><text x="840" y="1154">−120</text><text x="870" y="1154">−119</text><text x="900" y="1154">−118</text>
 <text x="742" y="1391">−123</text><text x="771" y="1391">−122</text><text x="800" y="1391">−121</text><text x="829" y="1391">−120</text><text x="859" y="1391">−119</text><text x="888" y="1391">−118</text><text x="917" y="1391">−117</text>
 <text x="734" y="1628">−123</text><text x="763" y="1628">−122</text><text x="792" y="1628">−121</text><text x="821" y="1628">−120</text><text x="850" y="1628">−119</text><text x="879" y="1628">−118</text><text x="908" y="1628">−117</text>
 <text x="722" y="1866">−123</text><text x="751" y="1866">−122</text><text x="780" y="1866">−121</text><text x="809" y="1866">−120</text><text x="839" y="1866">−119</text><text x="868" y="1866">−118</text><text x="897" y="1866">−117</text>
 <text x="739" y="2104">−122</text><text x="768" y="2104">−121</text><text x="797" y="2104">−120</text><text x="826" y="2104">−119</text><text x="855" y="2104">−118</text><text x="884" y="2104">−117</text><text x="913" y="2104">−116</text>
</g>

<text class="d" x="818" y="2122" font-size="10" text-anchor="middle" fill="#111">Brightness Temperature [K]</text>
<rect x="718" y="2125" width="200" height="13" fill="url(#bt)" stroke="#444" stroke-width="0.6"/>
<g class="d" font-size="7" text-anchor="middle" fill="#222">
 <text x="718" y="2149">180</text><text x="749" y="2149">200</text><text x="779" y="2149">220</text><text x="810" y="2149">240</text><text x="841" y="2149">260</text><text x="871" y="2149">280</text><text x="902" y="2149">300</text>
</g>
<text class="d" x="1055" y="2122" font-size="10" text-anchor="middle" fill="#111">SHAP Values</text>
<rect x="955" y="2125" width="201" height="13" fill="url(#sw)" stroke="#444" stroke-width="0.6"/>
<g class="d" font-size="10" text-anchor="middle" fill="#222">
 <text x="980" y="2152">−0.050</text><text x="1017.5" y="2152">−0.025</text><text x="1055" y="2152">0.000</text><text x="1092.5" y="2152">0.025</text><text x="1130" y="2152">0.050</text>
</g>
</svg>
</body></html>
